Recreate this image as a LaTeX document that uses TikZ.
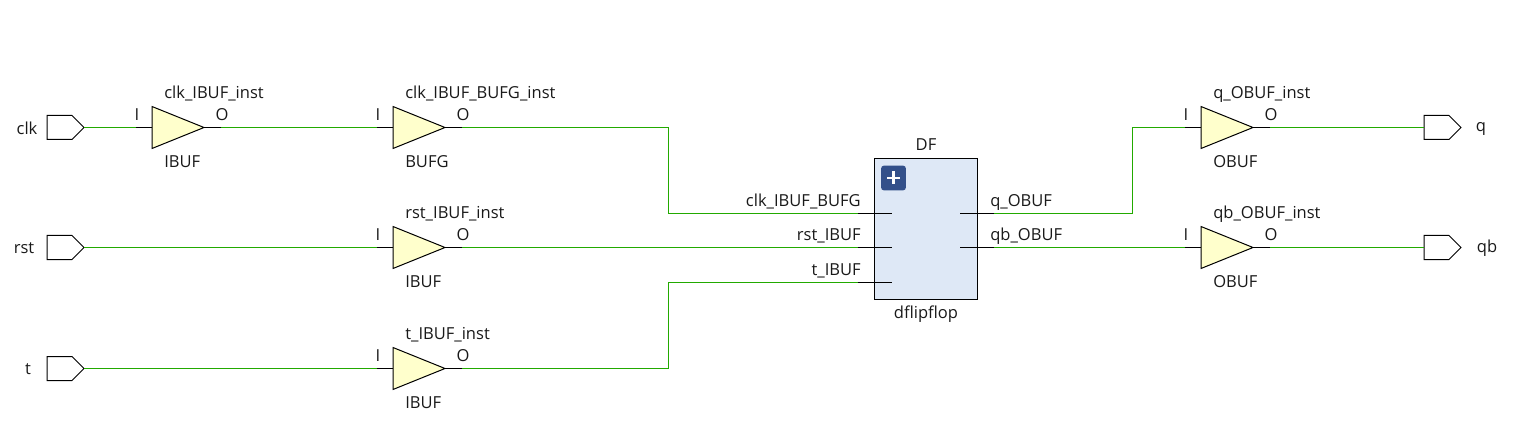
\documentclass[tikz,border=0pt]{standalone}
\usepackage{fontspec}
\setmainfont{Open Sans}
\usepackage{tikz}

\definecolor{wiregreen}{HTML}{22AA00}
\definecolor{cellyellow}{HTML}{FFFFCC}
\definecolor{blockblue}{HTML}{DEE8F6}
\definecolor{plusblue}{HTML}{33508A}

\tikzset{
	wire/.style={wiregreen, line width=0.75pt},
	stub/.style={black, line width=0.75pt},
	lbl/.style={inner sep=0pt, font=\fontsize{12.4}{14}\selectfont, text=black!90},
}

% celda de buffer: nombre, x, y, instancia, tipo
\newcommand{\bufcell}[5]{
	\coordinate (#1I) at (#2-16,#3);
	\coordinate (#1O) at (#2+69,#3);
	\draw[stub] (#1I) -- (#2,#3);
	\draw[stub] (#2+51,#3) -- (#1O);
	\draw[stub, fill=cellyellow] (#2,#3-21) -- (#2+52,#3) -- (#2,#3+21) -- cycle;
	\node[lbl, anchor=base west] (#1inst) at (#2+12,#3-29) {#4};
	\node[lbl, anchor=base west] (#1type) at (#2+12,#3+40) {#5};
	\node[lbl, anchor=base] (#1pinI) at (#2-15,#3-7) {I};
	\node[lbl, anchor=base] (#1pinO) at (#2+70,#3-7) {O};
}
% puerto: nombre, x, y
\newcommand{\portcell}[3]{
	\draw[stub, fill=white] (#2,#3-12) -- (#2+25,#3-12) -- (#2+37,#3) -- (#2+25,#3+12) -- (#2,#3+12) -- cycle;
	\coordinate (#1W) at (#2,#3);
	\coordinate (#1E) at (#2+37,#3);
}

\begin{document}
\begin{tikzpicture}[x=0.75pt, y=-0.75pt]

	\useasboundingbox (0,-0.5) rectangle (1522,441.5);

	% Puertos de entrada
	\portcell{clk}{47}{127}
	\portcell{rst}{47}{247}
	\portcell{t}{47}{368}
	\node[lbl] (clklabel) at (27,128) {clk};
	\node[lbl] (rstlabel) at (24,248) {rst};
	\node[lbl] (tlabel) at (28,369) {t};

	% Buffers
	\bufcell{clkbuf}{152}{127}{clk\_IBUF\_inst}{IBUF}
	\bufcell{bufg}{393}{127}{clk\_IBUF\_BUFG\_inst}{BUFG}
	\bufcell{rstbuf}{393}{247}{rst\_IBUF\_inst}{IBUF}
	\bufcell{tbuf}{393}{368}{t\_IBUF\_inst}{IBUF}
	\bufcell{qbuf}{1201}{127}{q\_OBUF\_inst}{OBUF}
	\bufcell{qbbuf}{1201}{247}{qb\_OBUF\_inst}{OBUF}

	% Bloque dflipflop
	\draw[stub, fill=blockblue] (874,158) rectangle (977,299);
	\node[lbl] (dfname) at (926,144) {DF};
	\node[lbl] (dftype) at (926,314) {dflipflop};
	\node[fill=plusblue, rounded corners=2pt, minimum size=18.5pt, inner sep=0pt] (plus) at (893.5,177.5) {};
	\draw[white, line width=2pt] (887,177.5) -- (900,177.5);
	\draw[white, line width=2pt] (893.5,171) -- (893.5,184);

	\coordinate (dfclk) at (858,213);
	\coordinate (dfrst) at (858,247);
	\coordinate (dft) at (858,282);
	\coordinate (dfq) at (994,213);
	\coordinate (dfqb) at (994,247);
	\draw[stub] (dfclk) -- (892,213);
	\draw[stub] (dfrst) -- (892,247);
	\draw[stub] (dft) -- (892,282);
	\draw[stub] (960,213) -- (dfq);
	\draw[stub] (960,247) -- (dfqb);
	\node[lbl, anchor=base east] (clkpin) at (861,206) {clk\_IBUF\_BUFG};
	\node[lbl, anchor=base east] (rstpin) at (861,240) {rst\_IBUF};
	\node[lbl, anchor=base east] (tpin) at (861,275) {t\_IBUF};
	\node[lbl, anchor=base west] (qpin) at (990,206) {q\_OBUF};
	\node[lbl, anchor=base west] (qbpin) at (990,240) {qb\_OBUF};

	% Puertos de salida
	\portcell{q}{1424}{127}
	\portcell{qb}{1424}{247}
	\node[lbl] (qlabel) at (1481,128) {q};
	\node[lbl] (qblabel) at (1487,248) {qb};

	% Cables
	\draw[wire] (clkE) -- (clkbufI);
	\draw[wire] (clkbufO) -- (bufgI);
	\draw[wire] (bufgO) -| (668,213) -- (dfclk);
	\draw[wire] (rstE) -- (rstbufI);
	\draw[wire] (rstbufO) -- (dfrst);
	\draw[wire] (tE) -- (tbufI);
	\draw[wire] (tbufO) -| (668,282) -- (dft);
	\draw[wire] (dfq) -| (1132,127) -- (qbufI);
	\draw[wire] (dfqb) -- (qbbufI);
	\draw[wire] (qbufO) -- (qW);
	\draw[wire] (qbbufO) -- (qbW);

\end{tikzpicture}
\end{document}
